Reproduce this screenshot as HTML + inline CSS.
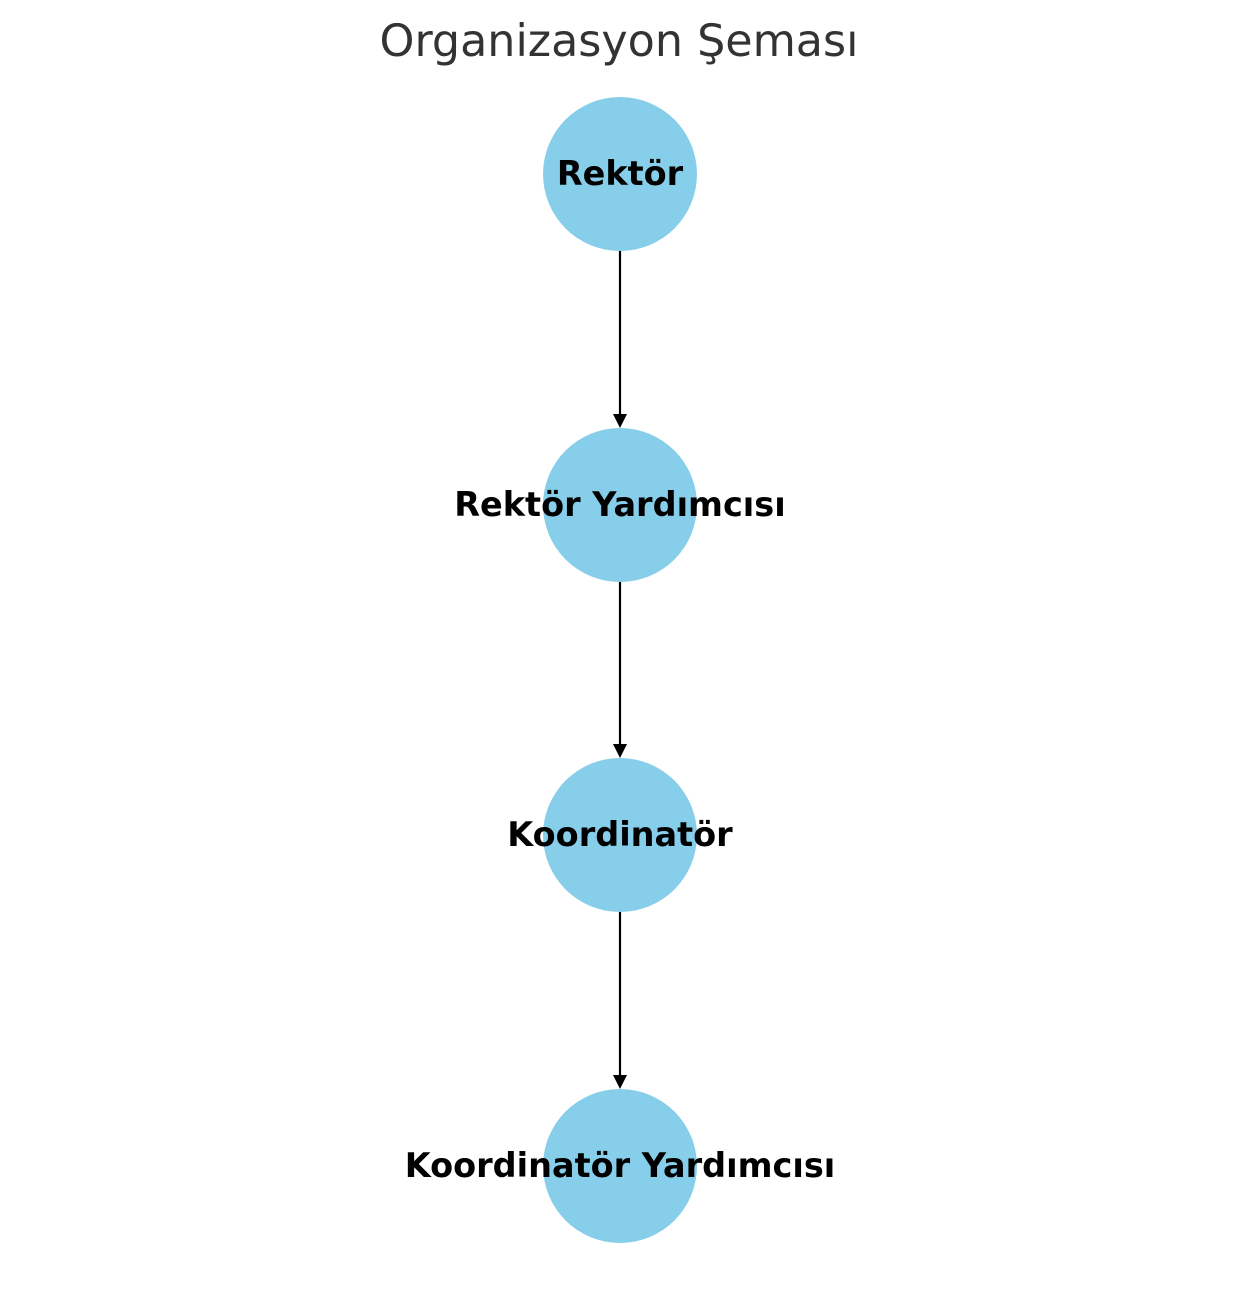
<!DOCTYPE html>
<html>
<head>
<meta charset="utf-8">
<style>
html,body{margin:0;padding:0;background:#fff;}
svg{display:block;}
</style>
</head>
<body>
<svg width="1239" height="1290" viewBox="0 0 1239 1290" xmlns="http://www.w3.org/2000/svg">
  <text x="619" y="56" text-anchor="middle" font-family="DejaVu Sans, Liberation Sans, sans-serif" font-size="44.4" fill="#333">Organizasyon Şeması</text>
  <g fill="#87ceeb">
    <circle cx="620" cy="174" r="77"/>
    <circle cx="620" cy="505" r="77"/>
    <circle cx="620" cy="835" r="77"/>
    <circle cx="620" cy="1166" r="77"/>
  </g>
  <g stroke="#000" stroke-width="2.2">
    <line x1="620" y1="251" x2="620" y2="416"/>
    <line x1="620" y1="582" x2="620" y2="746"/>
    <line x1="620" y1="912" x2="620" y2="1077"/>
  </g>
  <g fill="#000">
    <polygon points="613,414 627,414 620,428"/>
    <polygon points="613,744 627,744 620,758"/>
    <polygon points="613,1075 627,1075 620,1089"/>
  </g>
  <g font-family="DejaVu Sans, Liberation Sans, sans-serif" font-weight="bold" font-size="33.5" fill="#000" text-anchor="middle">
    <text x="620" y="185">Rektör</text>
    <text x="620" y="516">Rektör Yardımcısı</text>
    <text x="620" y="846">Koordinatör</text>
    <text x="620" y="1177">Koordinatör Yardımcısı</text>
  </g>
</svg>
</body>
</html>
